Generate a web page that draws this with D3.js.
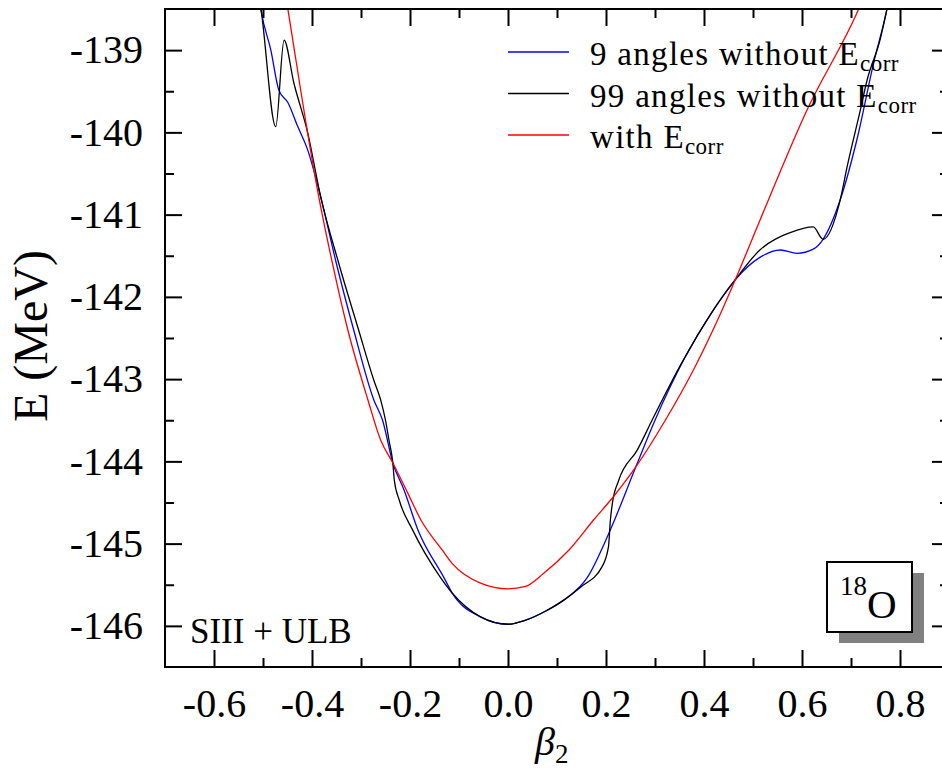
<!DOCTYPE html>
<html>
<head>
<meta charset="utf-8">
<script src="https://cdn.jsdelivr.net/npm/d3@7"></script>
<style>
  body { margin: 0; background: #fff; }
  svg text { font-family: "Liberation Serif", serif; }
</style>
</head>
<body>
<svg id="chart" width="942" height="769" font-family="Liberation Serif"></svg>
<script>
// tick values
const xMajor = [-0.6, -0.4, -0.2, 0.0, 0.2, 0.4, 0.6, 0.8];
const xMinor = [-0.5, -0.3, -0.1, 0.1, 0.3, 0.5, 0.7];
const yMajor = [-146, -145, -144, -143, -142, -141, -140, -139];
const yMinor = [-145.5, -144.5, -143.5, -142.5, -141.5, -140.5, -139.5];

// 9 angles without Ecorr (blue)
const blueBeta = [-0.51, -0.504, -0.484, -0.468, -0.449, -0.429, -0.409, -0.382, -0.35, -0.315, -0.274, -0.256, -0.235, -0.212, -0.184, -0.131, -0.114, -0.056, 0, 0.036, 0.08, 0.113, 0.162, 0.209, 0.264, 0.30, 0.36, 0.419, 0.464, 0.514, 0.556, 0.59, 0.623, 0.643, 0.678, 0.712, 0.746, 0.773, 0.78];
const blueE = [-138.25, -138.51, -139.0, -139.48, -139.64, -139.93, -140.21, -140.79, -141.6, -142.4, -143.25, -143.5, -144.02, -144.35, -144.83, -145.41, -145.6, -145.89, -145.98, -145.93, -145.81, -145.69, -145.41, -144.83, -144.02, -143.5, -142.75, -142.16, -141.79, -141.52, -141.43, -141.47, -141.42, -141.3, -140.82, -140.09, -139.16, -138.51, -138.3];

// 99 angles without Ecorr (black)
const blackBeta = [-0.51, -0.504, -0.474, -0.457, -0.437, -0.409, -0.382, -0.345, -0.305, -0.274, -0.26, -0.25, -0.243, -0.235, -0.232, -0.222, -0.195, -0.138, -0.114, -0.056, 0, 0.036, 0.08, 0.113, 0.148, 0.192, 0.205, 0.209, 0.213, 0.226, 0.264, 0.294, 0.352, 0.419, 0.464, 0.514, 0.576, 0.623, 0.643, 0.678, 0.692, 0.719, 0.733, 0.759, 0.773, 0.78];
const blackE = [-138.3, -138.51, -139.93, -138.88, -139.4, -140.0, -140.79, -141.6, -142.4, -143.01, -143.25, -143.5, -143.74, -144.02, -144.23, -144.47, -144.83, -145.41, -145.6, -145.89, -145.98, -145.93, -145.81, -145.69, -145.53, -145.28, -145.04, -144.71, -144.51, -144.23, -143.86, -143.5, -142.83, -142.16, -141.79, -141.43, -141.22, -141.15, -141.3, -140.82, -140.42, -139.73, -139.36, -138.88, -138.51, -138.3];

// with Ecorr (red)
const redBeta = [-0.46, -0.449, -0.386, -0.358, -0.327, -0.286, -0.26, -0.235, -0.205, -0.178, -0.134, -0.114, -0.056, 0, 0.036, 0.073, 0.124, 0.175, 0.215, 0.264, 0.321, 0.38, 0.437, 0.464, 0.514, 0.61, 0.715, 0.73];
const redE = [-138.1, -138.51, -140.79, -141.6, -142.4, -143.25, -143.74, -144.02, -144.38, -144.71, -145.08, -145.24, -145.48, -145.55, -145.52, -145.36, -145.08, -144.71, -144.43, -144.04, -143.5, -142.87, -142.16, -141.79, -141.07, -139.73, -138.51, -138.3];

const series = [
  { name: "9 angles without ", beta: blueBeta, e: blueE, color: "#0000ff" },
  { name: "99 angles without ", beta: blackBeta, e: blackE, color: "#000000" },
  { name: "with ", beta: redBeta, e: redE, color: "#ff0000" }
];

const margin = { left: 165, top: 9, right: 949, bottom: 667 };
const svg = d3.select("#chart");

const x = d3.scaleLinear().domain([-0.7, 0.9]).range([margin.left, margin.right]);
const y = d3.scaleLinear().domain([-146.5, -138.5]).range([margin.bottom, margin.top]);

svg.append("defs").append("clipPath").attr("id", "plotclip")
  .append("rect")
  .attr("x", margin.left).attr("y", margin.top)
  .attr("width", margin.right - margin.left).attr("height", margin.bottom - margin.top);

// curves
const line = d3.line()
  .x(d => x(d[0]))
  .y(d => y(d[1]))
  .curve(d3.curveMonotoneX);

const curves = svg.append("g").attr("clip-path", "url(#plotclip)");
series.forEach(s => {
  const pts = s.beta.map((b, i) => [b, s.e[i]]);
  curves.append("path")
    .datum(pts)
    .attr("d", line)
    .attr("fill", "none")
    .attr("stroke", s.color)
    .attr("stroke-width", 1.3);
});

// axes, ticks pointing inward on all four sides
function styleAxis(g) {
  g.attr("font-family", null).attr("font-size", null);
  g.select(".domain").remove();
  g.selectAll(".tick line").attr("stroke", "#000").attr("stroke-width", 2);
  g.selectAll(".tick text")
    .style("font-size", "40px")
    .attr("fill", "#000");
}

svg.append("g").attr("transform", `translate(0,${margin.bottom})`)
  .call(d3.axisBottom(x).tickValues(xMajor).tickSize(-17).tickPadding(22).tickFormat(d => d.toFixed(1)))
  .call(styleAxis);
svg.append("g").attr("transform", `translate(0,${margin.bottom})`)
  .call(d3.axisBottom(x).tickValues(xMinor).tickSize(-9).tickFormat(""))
  .call(styleAxis);
svg.append("g").attr("transform", `translate(0,${margin.top})`)
  .call(d3.axisTop(x).tickValues(xMajor).tickSize(-17).tickFormat(""))
  .call(styleAxis);
svg.append("g").attr("transform", `translate(0,${margin.top})`)
  .call(d3.axisTop(x).tickValues(xMinor).tickSize(-9).tickFormat(""))
  .call(styleAxis);

svg.append("g").attr("transform", `translate(${margin.left},0)`)
  .call(d3.axisLeft(y).tickValues(yMajor).tickSize(-17).tickPadding(22).tickFormat(d => String(d)))
  .call(styleAxis);
svg.append("g").attr("transform", `translate(${margin.left},0)`)
  .call(d3.axisLeft(y).tickValues(yMinor).tickSize(-9).tickFormat(""))
  .call(styleAxis);
svg.append("g").attr("transform", `translate(${margin.right},0)`)
  .call(d3.axisRight(y).tickValues(yMajor).tickSize(-17).tickFormat(""))
  .call(styleAxis);
svg.append("g").attr("transform", `translate(${margin.right},0)`)
  .call(d3.axisRight(y).tickValues(yMinor).tickSize(-9).tickFormat(""))
  .call(styleAxis);

// frame
svg.append("rect")
  .attr("x", margin.left).attr("y", margin.top)
  .attr("width", margin.right - margin.left).attr("height", margin.bottom - margin.top)
  .attr("fill", "none").attr("stroke", "#000").attr("stroke-width", 2);

// axis titles
svg.append("text")
  .attr("transform", "translate(47,336) rotate(-90)")
  .attr("text-anchor", "middle")
  .style("font-size", "48px")
  .text("E (MeV)");

const xt = svg.append("text")
  .attr("x", 535).attr("y", 755)
  .style("font-size", "40px");
xt.append("tspan").style("font-style", "italic").text("β");
xt.append("tspan").attr("dy", 8).style("font-size", "27px").text("2");

// legend
const legend = svg.append("g");
series.forEach((s, i) => {
  const ly = 52 + i * 41.5;
  legend.append("line")
    .attr("x1", 508).attr("x2", 569)
    .attr("y1", ly).attr("y2", ly)
    .attr("stroke", s.color).attr("stroke-width", 1.5);
  const t = legend.append("text")
    .attr("x", 590).attr("y", ly + 13)
    .style("font-size", "33px")
    .style("letter-spacing", "1.3px");
  t.append("tspan").text(s.name + "E");
  t.append("tspan").attr("dy", 6).style("font-size", "23px").style("letter-spacing", "0.5px").text("corr");
});

// model label
svg.append("text")
  .attr("x", 190).attr("y", 643)
  .style("font-size", "35px")
  .text("SIII + ULB");

// nucleus box with shadow
svg.append("rect")
  .attr("x", 839).attr("y", 573).attr("width", 85).attr("height", 70)
  .attr("fill", "#808080");
svg.append("rect")
  .attr("x", 827).attr("y", 562).attr("width", 85).attr("height", 70)
  .attr("fill", "#fff").attr("stroke", "#000").attr("stroke-width", 2);
const nuc = svg.append("text").attr("x", 840).attr("y", 618)
  .style("font-size", "41px");
nuc.append("tspan").attr("dy", -23).style("font-size", "27px").text("18");
nuc.append("tspan").attr("dy", 23).text("O");
</script>
</body>
</html>
